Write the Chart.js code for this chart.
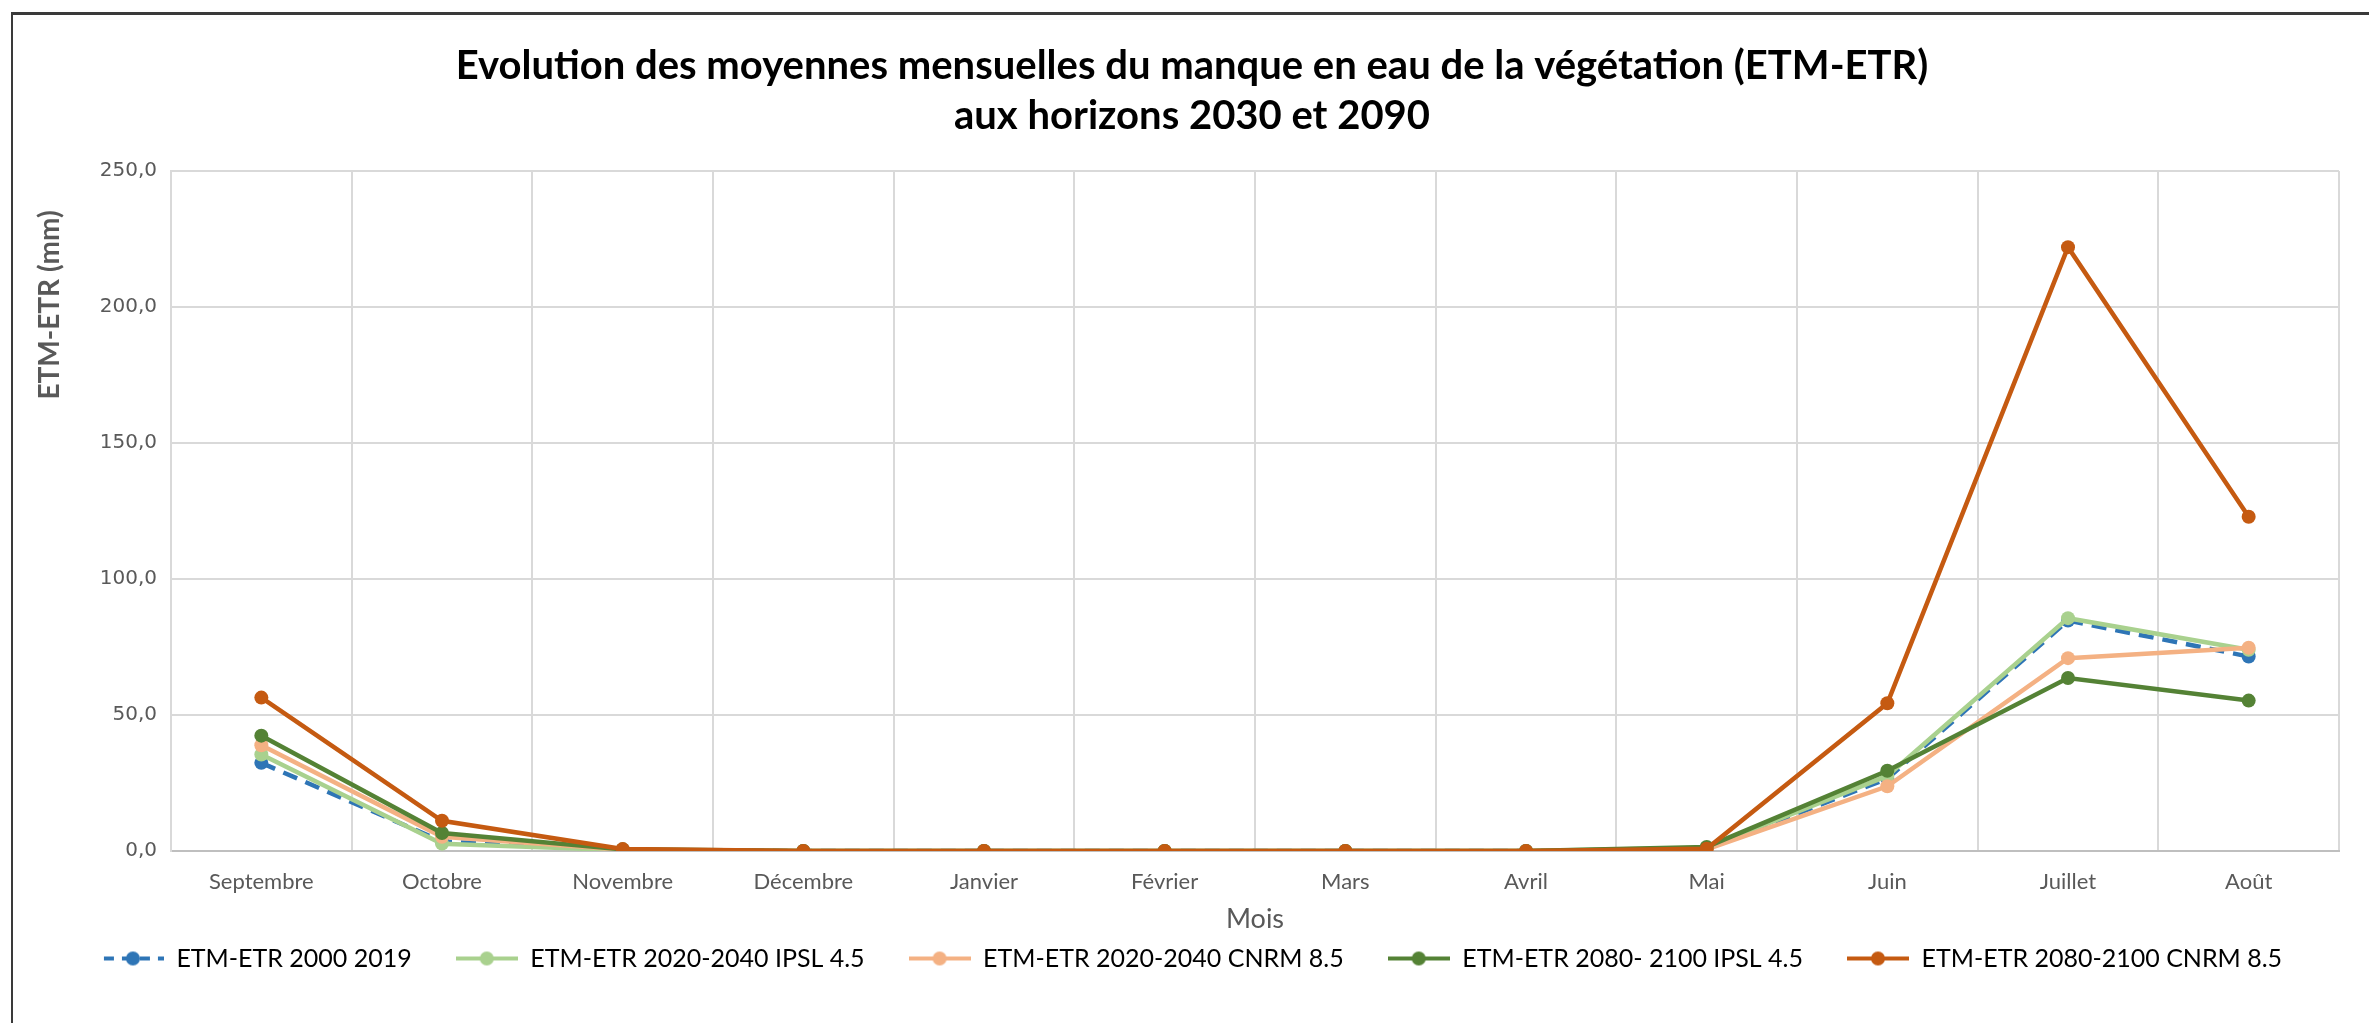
<!DOCTYPE html>
<html>
<head>
    <title>ETM-ETR</title>
    <script src="https://cdn.jsdelivr.net/npm/chart.js"></script>
    <style>
        html, body { margin: 0; padding: 0; background: #fff; }
        #wrap { position: relative; width: 2369px; height: 1023px; }
        #cadre {
            position: absolute; left: 11px; top: 12px; right: 0; bottom: 0;
            border-top: 3px solid #3a3a3a;
            border-left: 2px solid #3a3a3a;
            pointer-events: none;
        }
    </style>
</head>
<body>
<div id="wrap">
    <canvas id="myChart" width="2369" height="1023"></canvas>
    <div id="cadre"></div>
</div>

<script>
    // Mois (axe X)
    const mois = ['Septembre', 'Octobre', 'Novembre', 'Décembre', 'Janvier', 'Février',
                  'Mars', 'Avril', 'Mai', 'Juin', 'Juillet', 'Août'];

    // Séries (mm)
    const etr2000_2019 = [32.4, 3.5, 0.3, 0, 0, 0, 0, 0, 0.8, 26.6, 84.7, 71.5];
    const ipsl45_2030 = [35.5, 2.7, 0.3, 0, 0, 0, 0, 0, 1.2, 27.6, 85.6, 74.0];
    const cnrm85_2030 = [38.9, 5.2, 0.5, 0, 0, 0, 0, 0, 0.6, 23.8, 70.9, 74.7];
    const ipsl45_2090 = [42.4, 6.6, 0.6, 0, 0, 0, 0, 0, 1.5, 29.5, 63.6, 55.3];
    const cnrm85_2090 = [56.4, 11.1, 0.7, 0, 0, 0, 0, 0, 0.8, 54.3, 222.0, 122.9];

    const noms = ['ETM-ETR 2000 2019', 'ETM-ETR 2020-2040 IPSL 4.5', 'ETM-ETR 2020-2040 CNRM 8.5',
                  'ETM-ETR 2080- 2100 IPSL 4.5', 'ETM-ETR 2080-2100 CNRM 8.5'];
    const couleurs = ['#2E75B6', '#A9D18E', '#F4B183', '#548235', '#C55A11'];
    const series = [etr2000_2019, ipsl45_2030, cnrm85_2030, ipsl45_2090, cnrm85_2090];

    // petite image ligne + point pour la légende (style Excel)
    function marqueur(couleur, pointille) {
        const c = document.createElement('canvas');
        c.width = 62; c.height = 18;
        const g = c.getContext('2d');
        g.strokeStyle = couleur;
        g.lineWidth = 4;
        if (pointille) g.setLineDash([10, 8]);
        g.beginPath();
        g.moveTo(pointille ? 2 : 0, 9);
        g.lineTo(62, 9);
        g.stroke();
        g.fillStyle = couleur;
        g.beginPath();
        g.arc(31, 9, 7, 0, Math.PI * 2);
        g.fill();
        return c;
    }

    const datasets = series.map((vals, i) => ({
        label: noms[i],
        data: vals,
        borderColor: couleurs[i],
        backgroundColor: couleurs[i],
        borderWidth: 4.5,
        borderDash: i === 0 ? [15, 9] : [],
        pointRadius: 7,
        pointHoverRadius: 7,
        pointBorderWidth: 0,
        tension: 0,
        order: 5 - i
    }));

    // Titre de l'axe Y et de l'axe X dessinés à la main (position Excel)
    const titresAxes = {
        id: 'titresAxes',
        afterDraw(chart) {
            const ctx = chart.ctx;
            const a = chart.chartArea;
            ctx.save();
            ctx.fillStyle = '#595959';
            ctx.textAlign = 'center';
            ctx.textBaseline = 'middle';
            ctx.font = '27px Lato';
            ctx.fillText('Mois', (a.left + a.right) / 2, 919);
            ctx.translate(50, 305);
            ctx.rotate(-Math.PI / 2);
            ctx.font = 'bold 28px Lato';
            ctx.fillText('ETM-ETR (mm)', 0, 0);
            ctx.restore();
        }
    };

    const config = {
        type: 'line',
        data: { labels: mois, datasets: datasets },
        options: {
            responsive: false,
            animation: false,
            layout: { padding: { left: 45, right: 30, top: 0, bottom: 42 } },
            scales: {
                x: {
                    offset: true,
                    grid: { offset: true, color: '#D9D9D9', lineWidth: 2, drawTicks: false },
                    border: { color: '#BFBFBF', width: 2 },
                    ticks: { color: '#595959', font: { family: 'Lato', size: 22 }, padding: 18 },
                    afterFit(scale) { scale.height = 51; }
                },
                y: {
                    min: 0,
                    max: 250,
                    ticks: {
                        stepSize: 50,
                        color: '#595959',
                        font: { family: 'DejaVu Sans', size: 20 },
                        padding: 14,
                        callback: v => v.toFixed(1).replace('.', ',')
                    },
                    grid: { color: '#D9D9D9', lineWidth: 2, drawTicks: false },
                    border: { color: '#D9D9D9', width: 2 },
                    afterFit(scale) { scale.width = 126; }
                }
            },
            plugins: {
                title: {
                    display: true,
                    text: ['Evolution des moyennes mensuelles du manque en eau de la végétation (ETM-ETR)',
                           'aux horizons 2030 et 2090'],
                    color: '#000',
                    font: { family: 'Lato', size: 40, weight: 'bold', lineHeight: 1.25 },
                    padding: { top: 41, bottom: 30 }
                },
                legend: {
                    position: 'bottom',
                    labels: {
                        usePointStyle: true,
                        pointStyleWidth: 62,
                        padding: 44,
                        color: '#595959',
                        font: { family: 'Lato', size: 25 },
                        generateLabels(chart) {
                            return chart.data.datasets.map((ds, i) => ({
                                text: ds.label,
                                fillStyle: ds.borderColor,
                                strokeStyle: ds.borderColor,
                                pointStyle: marqueur(ds.borderColor, i === 0),
                                lineWidth: 0,
                                hidden: false,
                                datasetIndex: i
                            }));
                        }
                    }
                },
                tooltip: { enabled: false }
            }
        },
        plugins: [titresAxes]
    };

    new Chart(document.getElementById('myChart').getContext('2d'), config);
</script>
</body>
</html>
